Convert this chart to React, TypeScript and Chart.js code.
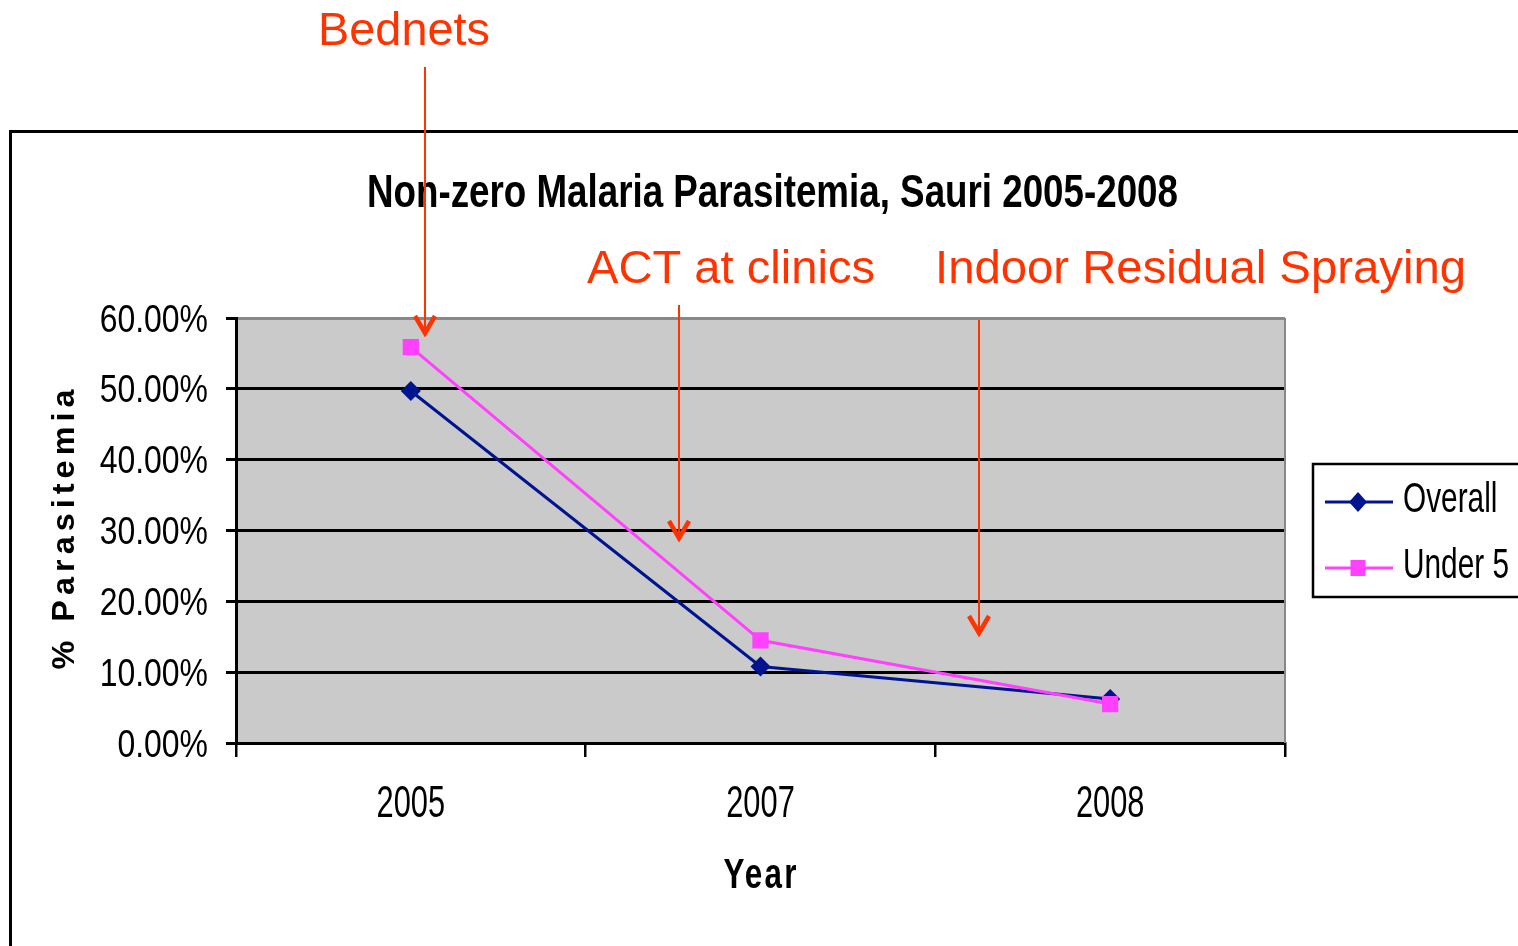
import React, { useEffect, useRef } from 'react';
import { Chart, registerables } from 'chart.js';

Chart.register(...registerables);

// ---------- data ----------
const categories = ['2005', '2007', '2008'];
const overall = [49.7, 10.8, 6.2];
const under5 = [55.9, 14.5, 5.5];
const yTicks = [0, 10, 20, 30, 40, 50, 60];
const seriesNames = ['Overall', 'Under 5'];
const chartTitle = 'Non-zero Malaria Parasitemia, Sauri 2005-2008';
const xTitle = 'Year';
const yTitle = '% Parasitemia';
const annotationLabels = ['Bednets', 'ACT at clinics', 'Indoor Residual Spraying'];

// ---------- styles ----------
const NAVY = '#001490';
const MAGENTA = '#FF40FF';
const RED = '#FF3300';
const PLOT_BG = '#CACACA';
const SANS = '"Liberation Sans", Arial, sans-serif';

function fitText(
  ctx: CanvasRenderingContext2D,
  text: string,
  x: number,
  y: number,
  w: number,
  font: string,
  color: string,
  align: CanvasTextAlign = 'left',
  spacing = 0
) {
  ctx.save();
  ctx.font = font;
  (ctx as any).letterSpacing = spacing + 'px';
  ctx.fillStyle = color;
  ctx.textBaseline = 'alphabetic';
  const m = ctx.measureText(text).width - spacing;
  const s = w / m;
  ctx.translate(x, y);
  ctx.scale(s, 1);
  ctx.textAlign = align;
  ctx.fillText(text, 0, 0);
  ctx.restore();
}

function narrowText(
  ctx: CanvasRenderingContext2D,
  text: string,
  x: number,
  y: number,
  font: string,
  sx: number,
  color: string,
  align: CanvasTextAlign
) {
  ctx.save();
  ctx.font = font;
  ctx.fillStyle = color;
  ctx.textBaseline = 'alphabetic';
  ctx.textAlign = align;
  ctx.translate(x, y);
  ctx.scale(sx, 1);
  ctx.fillText(text, 0, 0);
  ctx.restore();
}

function drawArrow(ctx: CanvasRenderingContext2D, x: number, y0: number, y1: number) {
  ctx.save();
  ctx.strokeStyle = RED;
  ctx.lineWidth = 2;
  ctx.beginPath();
  ctx.moveTo(x, y0);
  ctx.lineTo(x, y1 - 3);
  ctx.stroke();
  ctx.lineWidth = 4.5;
  ctx.lineJoin = 'miter';
  ctx.lineCap = 'butt';
  ctx.beginPath();
  ctx.moveTo(x - 10, y1 - 19);
  ctx.lineTo(x, y1 - 2);
  ctx.lineTo(x + 10, y1 - 19);
  ctx.stroke();
  ctx.restore();
}

const decor = {
  id: 'decor',
  beforeDraw(chart: any) {
    const { ctx, chartArea: a } = chart;
    ctx.save();
    ctx.fillStyle = '#fff';
    ctx.fillRect(0, 0, chart.width, chart.height);
    ctx.strokeStyle = '#000';
    ctx.lineWidth = 3;
    ctx.strokeRect(10.5, 131.5, 1560, 900);
    ctx.fillStyle = PLOT_BG;
    ctx.fillRect(a.left, a.top, a.right - a.left, a.bottom - a.top);
    ctx.restore();
  },
  beforeDatasetsDraw(chart: any) {
    const { ctx, chartArea: a } = chart;
    ctx.save();
    ctx.strokeStyle = '#888';
    ctx.lineWidth = 2;
    ctx.beginPath();
    ctx.moveTo(a.right, a.top);
    ctx.lineTo(a.right, a.bottom);
    ctx.stroke();
    ctx.restore();
  },
  afterDraw(chart: any) {
    const { ctx } = chart;
    // tick labels, taken from the scales
    const xs = chart.scales.x;
    xs.ticks.forEach((t: any, i: number) => {
      const label = t.label != null ? String(t.label) : xs.getLabelForValue(t.value);
      narrowText(ctx, label, xs.getPixelForTick(i), 817, `44px ${SANS}`, 0.7, '#000', 'center');
    });
    const ys = chart.scales.y;
    ys.ticks.forEach((t: any) => {
      const y = ys.getPixelForValue(t.value);
      narrowText(ctx, String(t.label), ys.right - 28, y + 13.5, `38px ${SANS}`, 0.84, '#000', 'right');
    });

    // title
    fitText(ctx, chartTitle, 772.5, 207, 811, `bold 47px ${SANS}`, '#000', 'center');
    // x title
    fitText(ctx, xTitle, 761, 888, 73, `bold 42px ${SANS}`, '#000', 'center', 3);
    // y title
    ctx.save();
    ctx.translate(74, 527);
    ctx.rotate(-Math.PI / 2);
    fitText(ctx, yTitle, 0, 0, 280, `bold 32px ${SANS}`, '#000', 'center', 5);
    ctx.restore();

    // legend
    ctx.save();
    ctx.strokeStyle = '#000';
    ctx.lineWidth = 2.5;
    ctx.strokeRect(1313, 464, 230, 133);
    ctx.restore();
    const rows = [502, 568];
    chart.data.datasets.forEach((ds: any, i: number) => {
      const y = rows[i];
      ctx.save();
      ctx.strokeStyle = ds.borderColor;
      ctx.lineWidth = 3;
      ctx.beginPath();
      ctx.moveTo(1325, y);
      ctx.lineTo(1393, y);
      ctx.stroke();
      ctx.fillStyle = ds.backgroundColor;
      ctx.beginPath();
      if (ds.pointStyle === 'rectRot') {
        ctx.moveTo(1358, y - 10);
        ctx.lineTo(1358 + 9, y);
        ctx.lineTo(1358, y + 10);
        ctx.lineTo(1358 - 9, y);
        ctx.closePath();
      } else {
        ctx.rect(1358 - 7.5, y - 8, 15, 16);
      }
      ctx.fill();
      ctx.restore();
      narrowText(ctx, ds.label, 1403, y + 10, `42px ${SANS}`, 0.71, '#000', 'left');
    });

    // annotations
    fitText(ctx, annotationLabels[0], 318, 45, 172, `46px ${SANS}`, RED, 'left');
    fitText(ctx, annotationLabels[1], 587, 283, 288, `46px ${SANS}`, RED, 'left');
    fitText(ctx, annotationLabels[2], 935, 283, 531, `46px ${SANS}`, RED, 'left');
    drawArrow(ctx, 425, 67, 335);
    drawArrow(ctx, 679, 305, 540);
    drawArrow(ctx, 979, 320, 635);
  },
};

export default function App() {
  const ref = useRef<HTMLCanvasElement | null>(null);

  useEffect(() => {
    document.body.style.margin = '0';
    document.body.style.overflow = 'hidden';
    const canvas = ref.current;
    if (!canvas) return;
    const chart = new Chart(canvas, {
      type: 'line',
      data: {
        labels: categories,
        datasets: [
          {
            label: seriesNames[0],
            data: overall,
            borderColor: NAVY,
            backgroundColor: NAVY,
            borderWidth: 3,
            pointStyle: 'rectRot',
            pointRadius: 10,
            pointBorderWidth: 0,
            tension: 0,
            order: 1,
          },
          {
            label: seriesNames[1],
            data: under5,
            borderColor: MAGENTA,
            backgroundColor: MAGENTA,
            borderWidth: 3,
            pointStyle: 'rect',
            pointRadius: 11.5,
            pointBorderWidth: 0,
            tension: 0,
            order: 0,
          },
        ],
      },
      options: {
        responsive: false,
        animation: false,
        devicePixelRatio: 1,
        layout: { padding: { top: 318, right: 233, left: 0, bottom: 0 } },
        plugins: {
          legend: { display: false },
          title: { display: false },
          tooltip: { enabled: false },
        },
        scales: {
          x: {
            offset: true,
            grid: {
              offset: true,
              drawOnChartArea: false,
              color: '#000',
              lineWidth: 2.5,
              tickLength: 14,
            },
            border: { color: '#000', width: 3 },
            ticks: { display: false },
            afterFit: (s: any) => {
              s.height = 203;
            },
          },
          y: {
            min: 0,
            max: 60,
            afterBuildTicks: (s: any) => {
              s.ticks = yTicks.map((v) => ({ value: v }));
            },
            ticks: {
              display: false,
              callback: (v: any) => Number(v).toFixed(2) + '%',
            },
            grid: {
              color: (c: any) => (c.tick && c.tick.value === 60 ? '#888' : '#000'),
              tickColor: '#000',
              lineWidth: 3,
              tickLength: 10,
            },
            border: { color: '#000', width: 3 },
            afterFit: (s: any) => {
              s.width = 236;
            },
          },
        },
      },
      plugins: [decor],
    });
    return () => chart.destroy();
  }, []);

  return (
    <div style={{ width: 1518, height: 946, position: 'relative' }}>
      <canvas ref={ref} width={1518} height={946} style={{ display: 'block' }} />
    </div>
  );
}
